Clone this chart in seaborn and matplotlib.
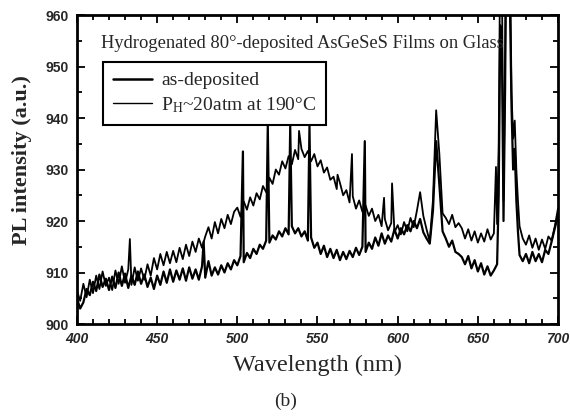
import numpy as np
import pandas as pd
import matplotlib
matplotlib.use("Agg")
import matplotlib.pyplot as plt
from matplotlib.lines import Line2D
from matplotlib.ticker import MultipleLocator
import seaborn as sns

# ---- data ----
wl_grid = np.arange(400, 701, 2)

hydro_base = [
    906.5, 904.5, 907.8, 905.2, 908.6, 906.0, 909.4, 906.8, 910.2, 907.4,
    909.0, 906.6, 910.4, 907.8, 911.2, 908.0, 910.6, 907.6, 911.0, 908.4,
    910.8, 908.6, 911.6, 909.4, 912.8, 910.6, 913.6, 911.4, 914.0, 911.8,
    914.2, 912.0, 914.8, 912.6, 915.4, 913.2, 916.0, 914.0, 916.6, 914.8,
    917.0, 918.8, 916.6, 919.8, 917.6, 920.4, 918.6, 921.2, 919.4, 921.8,
    922.6, 920.8, 923.8, 922.2, 924.6, 923.0, 925.4, 924.2, 926.8, 925.6,
    928.4, 927.2, 930.0, 929.0, 931.6, 930.2, 932.6, 931.0, 933.8, 932.0,
    934.0, 932.4, 933.6, 931.6, 933.0, 930.6, 931.8, 929.4, 930.4, 928.0,
    928.6, 926.2, 927.4, 925.0, 926.0, 923.6, 924.8, 922.4, 924.0, 921.8,
    923.0, 921.0, 922.4, 920.0, 921.2, 919.0, 920.4, 918.2, 919.6, 917.8,
    919.2, 917.4, 919.8, 918.0, 920.6, 918.8, 922.0, 925.6, 921.0, 918.4,
    916.0, 924.0, 941.5, 933.0, 921.5, 920.6, 919.4, 921.2, 918.8, 919.6,
    918.6, 916.6, 918.4, 916.2, 918.0, 915.8, 917.6, 916.0, 918.4, 916.4,
    917.6, 919.4, 975.0, 924.0, 990.0, 972.0, 936.0, 930.0, 919.0, 916.6,
    915.4, 917.2, 914.8, 916.6, 914.4, 916.4, 914.6, 917.0, 916.2, 919.0,
    922.5,
]
hydro_extra_wl = [433, 538.5, 562.5, 571.5, 591.5, 596.5, 661.3,
                  663, 665, 667, 669, 671, 673, 675]
hydro_extra_val = [916.5, 937.5, 929.0, 933.0, 924.5, 927.3, 930.5,
                   935.0, 968.0, 952.0, 995.0, 945.0, 939.5, 924.0]

asdep_base = [
    905.0, 903.0, 904.2, 906.8, 905.6, 908.2, 906.4, 909.6, 907.2, 908.8,
    906.6, 909.2, 907.0, 910.0, 907.4, 909.8, 907.0, 909.4, 907.6, 910.2,
    907.8, 909.6, 907.2, 909.0, 906.8, 909.4, 907.6, 910.2, 908.0, 910.6,
    908.2, 910.4, 908.6, 910.8, 908.4, 911.0, 908.8, 910.6, 908.6, 911.2,
    909.0, 912.2, 909.4, 911.0, 909.6, 911.4, 910.0, 911.8, 910.6, 912.4,
    911.4, 913.2, 912.0, 913.8, 912.8, 914.6, 913.6, 915.4, 914.6, 916.2,
    915.8, 917.2, 916.4, 918.0, 917.0, 918.6, 917.4, 919.0, 917.6, 918.6,
    917.0, 918.0, 916.2, 916.8, 914.8, 915.8, 913.6, 915.2, 913.0, 914.6,
    912.8, 914.4, 912.4, 914.0, 912.6, 914.2, 913.0, 914.8, 913.4, 915.0,
    914.0, 915.8, 914.6, 916.8, 915.2, 917.6, 915.6, 917.2, 916.0, 918.4,
    916.6, 918.6, 917.4, 919.2, 918.0, 920.0, 918.6, 920.4, 917.8, 916.6,
    915.6, 922.0, 935.5, 927.0, 918.0, 916.6, 915.0, 916.2, 914.0, 913.6,
    913.0, 911.6, 913.2, 910.8, 912.4, 910.2, 911.8, 909.6, 911.2, 909.4,
    910.4, 911.6, 958.0, 920.0, 985.0, 962.0, 930.0, 924.0, 913.4, 912.2,
    913.6, 911.8, 914.0, 912.2, 913.6, 912.0, 914.4, 913.6, 916.0, 918.6,
    921.0,
]
asdep_extra_wl = [479, 503.5, 519, 533, 545, 579.5,
                  663, 665, 667, 669, 671, 673, 675]
asdep_extra_val = [916.0, 933.5, 938.5, 938.5, 938.5, 935.5,
                   925.0, 954.0, 946.0, 988.0, 942.0, 934.0, 918.0]

label_asdep = "as-deposited"
label_hydro = r"$\mathregular{P_H}$~20atm at 190°C"
title_text = "Hydrogenated 80°-deposited AsGeSeS Films on Glass"


def build(base, ex_wl, ex_val):
    df = pd.concat([pd.DataFrame({"wl": wl_grid, "v": base}),
                    pd.DataFrame({"wl": ex_wl, "v": ex_val})])
    return df.sort_values("wl").reset_index(drop=True)


df_asdep = build(asdep_base, asdep_extra_wl, asdep_extra_val)
df_hydro = build(hydro_base, hydro_extra_wl, hydro_extra_val)

# ---- plot ----
sns.set_style("ticks")
serif = ["Liberation Serif", "DejaVu Serif"]
sans = ["Liberation Sans", "DejaVu Sans"]
plt.rcParams["font.family"] = serif
plt.rcParams["mathtext.fontset"] = "custom"
plt.rcParams["mathtext.rm"] = "Liberation Serif"

fig = plt.figure(figsize=(5.70, 4.17), dpi=100)
ax = fig.add_axes([0.135, 0.223, 0.979 - 0.135, 0.964 - 0.223])

sns.lineplot(data=df_hydro, x="wl", y="v", ax=ax, color="black",
             linewidth=1.3, estimator=None, sort=False)
sns.lineplot(data=df_asdep, x="wl", y="v", ax=ax, color="black",
             linewidth=1.6, estimator=None, sort=False)

ax.set_xlim(400, 700)
ax.set_ylim(900, 960)
ax.xaxis.set_major_locator(MultipleLocator(50))
ax.xaxis.set_minor_locator(MultipleLocator(10))
ax.yaxis.set_major_locator(MultipleLocator(10))
ax.yaxis.set_minor_locator(MultipleLocator(5))
ax.tick_params(which="both", direction="in", top=True, right=True,
               width=1.3, color="black", pad=6)
ax.tick_params(which="major", length=6)
ax.tick_params(which="minor", length=3.5)
for s in ax.spines.values():
    s.set_linewidth(2.0)
    s.set_color("black")

for t in ax.get_xticklabels():
    t.set_fontfamily(sans)
    t.set_fontweight("bold")
    t.set_fontstyle("italic")
    t.set_fontsize(10)
for t in ax.get_yticklabels():
    t.set_fontfamily(sans)
    t.set_fontweight("bold")
    t.set_fontsize(10)

ax.set_xlabel("Wavelength (nm)", fontsize=17.5, fontfamily=serif)
ax.xaxis.set_label_coords(0.5, -0.10)
ax.set_ylabel("PL intensity (a.u.)", fontsize=16, fontfamily=serif,
              fontweight="bold")
ax.yaxis.set_label_coords(-0.094, 0.53)

ax.text(0.05, 0.909, title_text, transform=ax.transAxes, fontsize=13.3,
        va="center", ha="left", fontfamily=serif)

handles = [Line2D([], [], color="black", linewidth=1.8),
           Line2D([], [], color="black", linewidth=1.0)]
leg = ax.legend(handles, [label_asdep, label_hydro], loc="upper left",
                bbox_to_anchor=(0.054, 0.848), borderaxespad=0,
                fancybox=False, edgecolor="black", framealpha=1,
                prop={"family": serif, "size": 14}, handlelength=2.0,
                borderpad=0.5, labelspacing=0.3, handletextpad=0.5)
leg.get_frame().set_linewidth(1.5)

fig.text(286 / 570, 1 - 401 / 417, "(b)", ha="center", va="center",
         fontsize=14, fontfamily=serif)

fig.savefig("out.png", dpi=100)
